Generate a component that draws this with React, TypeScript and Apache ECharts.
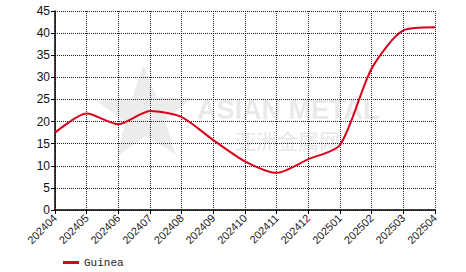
import React, { useEffect, useRef } from "react";
import * as echarts from "echarts";

const categories = [
  "202404", "202405", "202406", "202407", "202408", "202409", "202410",
  "202411", "202412", "202501", "202502", "202503", "202504",
];
const guineaValues = [17.5, 21.8, 19.4, 22.4, 21.0, 15.8, 11.0, 8.4, 11.5, 14.7, 32.0, 40.6, 41.3];
const seriesName = "Guinea";
const yMin = 0;
const yMax = 45;
const yStep = 5;

function starPoints(cx: number, cy: number, ro: number, ri: number, startDeg: number) {
  const pts: number[][] = [];
  for (let i = 0; i < 10; i++) {
    const r = i % 2 === 0 ? ro : ri;
    const a = ((startDeg + i * 36) * Math.PI) / 180;
    pts.push([cx + r * Math.cos(a), cy + r * Math.sin(a)]);
  }
  return pts;
}

export default function App() {
  const ref = useRef<HTMLDivElement>(null);
  useEffect(() => {
    if (!ref.current) return;
    const chart = echarts.init(ref.current, null, { renderer: "svg" });
    chart.setOption({
      animation: false,
      backgroundColor: "#ffffff",
      grid: { left: 55, right: 31, top: 11, bottom: 62, containLabel: false },
      graphic: [
        {
          type: "polygon",
          z: 0,
          silent: true,
          shape: { points: starPoints(145, 115, 50, 21, -92) },
          style: { fill: "#e4e4e4", opacity: 0.7 },
        },
        {
          type: "text",
          z: 0,
          silent: true,
          left: 197,
          top: 96,
          style: {
            text: "ASIAN METAL",
            font: "bold 27px 'Liberation Sans', Arial, sans-serif",
            lineHeight: 24,
            fill: "#e6e6e6",
            opacity: 0.85,
          },
        },
        {
          type: "text",
          z: 0,
          silent: true,
          left: 235,
          top: 129,
          style: {
            text: "亚洲金属网",
            font: "21px 'Noto Sans CJK SC', sans-serif",
            lineHeight: 21,
            fill: "#e2e2e2",
            opacity: 0.85,
          },
        },
      ],
      legend: {
        left: 58,
        top: 252,
        itemWidth: 16,
        itemHeight: 3,
        itemGap: 6,
        icon: "rect",
        textStyle: {
          fontFamily: "'Liberation Mono', 'DejaVu Sans Mono', monospace",
          fontSize: 11,
          color: "#222",
        },
        data: [seriesName],
      },
      xAxis: {
        type: "category",
        data: categories,
        boundaryGap: false,
        axisLine: { lineStyle: { color: "#000", width: 1.5 } },
        axisTick: { show: true, length: 4, lineStyle: { color: "#000" } },
        axisLabel: {
          rotate: 45,
          margin: 6,
          color: "#222",
          fontSize: 11,
          fontFamily: "'Liberation Sans', Arial, sans-serif",
          interval: 0,
        },
        splitLine: { show: true, lineStyle: { color: "#222", type: "dotted", width: 1 } },
      },
      yAxis: {
        type: "value",
        min: yMin,
        max: yMax,
        interval: yStep,
        axisLine: { show: true, lineStyle: { color: "#000", width: 1.5 } },
        axisTick: { show: true, length: 4, lineStyle: { color: "#000" } },
        axisLabel: {
          color: "#111",
          fontSize: 12,
          margin: 5,
          fontFamily: "'Liberation Sans', Arial, sans-serif",
        },
        splitLine: { show: true, lineStyle: { color: "#222", type: "dotted", width: 1 } },
      },
      series: [
        {
          name: seriesName,
          type: "line",
          data: guineaValues,
          smooth: 0.25,
          symbol: "none",
          z: 5,
          lineStyle: { color: "#d9001b", width: 2 },
          itemStyle: { color: "#d9001b" },
        },
      ],
    });
    return () => chart.dispose();
  }, []);
  return (
    <div
      ref={ref}
      style={{ position: "fixed", left: 0, top: 0, width: 466, height: 272 }}
    />
  );
}
